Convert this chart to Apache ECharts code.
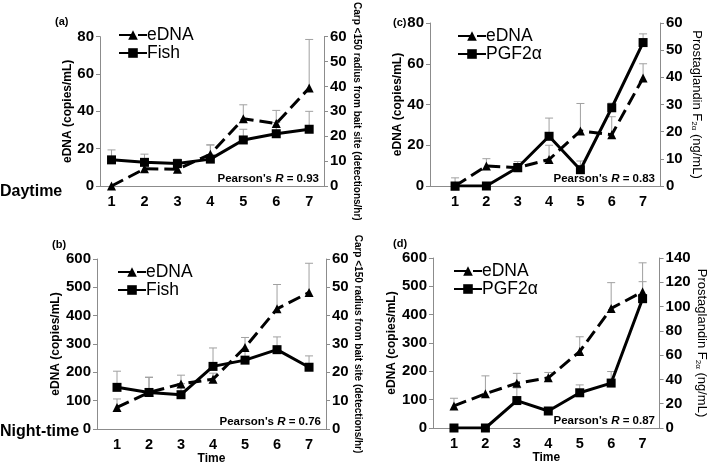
<!DOCTYPE html>
<html><head><meta charset="utf-8">
<script src="https://cdn.jsdelivr.net/npm/echarts@6/dist/echarts.min.js"></script>
<style>html,body{margin:0;padding:0;background:#fff}#c{width:709px;height:466px}</style>
</head><body><div id="c"></div>
<script>
const times = [1, 2, 3, 4, 5, 6, 7];
// (a) Daytime: eDNA (left axis) & Fish (right axis)
const aEDNA    = [0, 9.2, 9, 17, 36, 33.5, 52.5];
const aEDNAErr = [0, 13, 11, 22, 43.5, 40.5, 78.5];
const aFish    = [10.5, 9.5, 9, 10.8, 18.5, 21, 22.8];
const aFishErr = [14.5, 12.8, 10.8, 16.5, 22.8, 25.5, 30];
// (c) Daytime: eDNA (left) & PGF2a (right)
const cEDNA    = [0, 9.8, 9, 13, 27, 25.2, 53];
const cEDNAErr = [0, 13.4, 12, 20, 40.5, 34, 60];
const cPGF     = [0, 0, 6.8, 18.3, 6, 28.8, 52.8];
const cPGFErr  = [3, 0, 8, 25, 9.2, 30.5, 56];
// (b) Night-time: eDNA (left) & Fish (right)
const bEDNA    = [76, 129, 159, 176, 288, 424, 482];
const bEDNAErr = [106, 183, 190, 197, 323, 510, 585];
const bFish    = [14.7, 12.9, 12.1, 22.1, 24.3, 28, 21.8];
const bFishErr = [20.4, 18.2, 16, 28.6, 28, 32.5, 25.8];
// (d) Night-time: eDNA (left) & PGF2a (right)
const dEDNA    = [78, 121, 158, 177, 270, 422, 481];
const dEDNAErr = [105, 184, 193, 196, 322, 513, 583];
const dPGF     = [0, 0, 22.6, 14, 29, 37, 106.5];
const dPGFErr  = [0, 0, 33, 16, 35.5, 46.5, 120.5];

const pearson = ['0.93', '0.76', '0.83', '0.87'];
const panelLetters = ['(a)', '(b)', '(c)', '(d)'];

const FONT = 'Liberation Sans, Arial, sans-serif';
const AXIS_GRAY = '#8c8c8c';

const chart = echarts.init(document.getElementById('c'), null, {renderer: 'canvas'});

const panels = [
  {grid: {left: 100, right: 385, top: 22, height: 164}, xr: [0.65, 7.45], letterX: 55, legendX: 113,
   left: {max: 80, interval: 20, gap: 22}, right: {max: 60, interval: 10, gap: 28, name: 'carp'},
   e: aEDNA, eErr: aEDNAErr, s: aFish, sErr: aFishErr, sName: 'Fish', time: false},
  {grid: {left: 97, right: 383, top: 259, height: 170}, xr: [0.375, 7.53], letterX: 52, legendX: 112,
   left: {max: 600, interval: 100, gap: 29}, right: {max: 60, interval: 10, gap: 26, name: 'carp'},
   e: bEDNA, eErr: bEDNAErr, s: bFish, sErr: bFishErr, sName: 'Fish', time: true},
  {grid: {left: 430, right: 49, top: 23, height: 163}, xr: [0.2, 7.54], letterX: 393, legendX: 452,
   left: {max: 80, interval: 20, gap: 24}, right: {max: 60, interval: 10, gap: 30, name: 'pgf'},
   e: cEDNA, eErr: cEDNAErr, s: cPGF, sErr: cPGFErr, sName: 'PGF2α', time: false},
  {grid: {left: 433, right: 49, top: 258, height: 170}, xr: [0.333, 7.54], letterX: 393, legendX: 448,
   left: {max: 600, interval: 100, gap: 33}, right: {max: 140, interval: 20, gap: 30, name: 'pgf'},
   e: dEDNA, eErr: dEDNAErr, s: dPGF, sErr: dPGFErr, sName: 'PGF2α', time: true}
];

function errRender(params, api) {
  const x = api.value(0), y = api.value(1), top = api.value(2);
  if (!(top > y)) return null;
  const p0 = api.coord([x, y]);
  const p1 = api.coord([x, top]);
  return {type: 'group', children: [
    {type: 'line', shape: {x1: p0[0], y1: p0[1], x2: p1[0], y2: p1[1]}, style: {stroke: '#a0a0a0', lineWidth: 1}},
    {type: 'line', shape: {x1: p1[0] - 4, y1: p1[1], x2: p1[0] + 4, y2: p1[1]}, style: {stroke: '#a0a0a0', lineWidth: 1}}
  ]};
}

const grids = [], xAxes = [], yAxes = [], series = [], legends = [], graphics = [];

panels.forEach((p, i) => {
  grids.push(Object.assign({containLabel: false}, p.grid));
  xAxes.push({
    type: 'value', gridIndex: i, min: p.xr[0], max: p.xr[1], splitNumber: 7,
    name: p.time ? 'Time' : '', nameLocation: 'middle', nameGap: 17,
    nameTextStyle: {fontFamily: FONT, fontWeight: 'bold', fontSize: 12, color: '#000'},
    axisLine: {show: true, lineStyle: {color: AXIS_GRAY, width: 1}},
    axisTick: {show: false}, splitLine: {show: false},
    axisLabel: {
      showMinLabel: false, showMaxLabel: false, margin: 8,
      fontFamily: FONT, fontWeight: 'bold', fontSize: 14.5, color: '#000',
      formatter: v => (Math.abs(v - Math.round(v)) < 1e-6 && times.indexOf(Math.round(v)) >= 0) ? String(Math.round(v)) : ''
    }
  });
  yAxes.push({
    type: 'value', gridIndex: i, position: 'left', min: 0, max: p.left.max, interval: p.left.interval,
    name: 'eDNA (copies/mL)', nameLocation: 'middle', nameGap: p.left.gap, nameRotate: 90,
    nameTextStyle: {fontFamily: FONT, fontWeight: 'bold', fontSize: 12, color: '#000'},
    axisLine: {show: true, lineStyle: {color: AXIS_GRAY, width: 1}},
    axisTick: {show: true, length: 4, lineStyle: {color: AXIS_GRAY}},
    splitLine: {show: false},
    axisLabel: {fontFamily: FONT, fontWeight: 'bold', fontSize: 15, color: '#000', margin: 6}
  });
  const rightName = p.right.name === 'carp'
    ? 'Carp <150 radius from bait site (detections/hr)'
    : 'Prostaglandin F{sub|2α} (ng/mL)';
  yAxes.push({
    type: 'value', gridIndex: i, position: 'right', min: 0, max: p.right.max, interval: p.right.interval,
    name: rightName, nameLocation: 'middle', nameGap: p.right.gap, nameRotate: -90,
    nameTextStyle: p.right.name === 'carp'
      ? {fontFamily: FONT, fontWeight: 'bold', fontSize: 10, color: '#000'}
      : {fontFamily: FONT, fontWeight: 'normal', fontSize: 13, color: '#000',
         rich: {sub: {fontFamily: FONT, fontSize: 8, color: '#000', verticalAlign: 'bottom', padding: [6, 0, 0, 0]}}},
    axisLine: {show: true, lineStyle: {color: AXIS_GRAY, width: 1}},
    axisTick: {show: true, length: 4, lineStyle: {color: AXIS_GRAY}},
    splitLine: {show: false},
    axisLabel: {fontFamily: FONT, fontWeight: 'bold', fontSize: 15, color: '#000', margin: 6}
  });
  const yl = i * 2, yr = i * 2 + 1;
  series.push({
    type: 'custom', xAxisIndex: i, yAxisIndex: yl, renderItem: errRender, silent: true, z: 1,
    data: times.map((t, k) => [t, p.e[k], p.eErr[k]])
  });
  series.push({
    type: 'custom', xAxisIndex: i, yAxisIndex: yr, renderItem: errRender, silent: true, z: 1,
    data: times.map((t, k) => [t, p.s[k], p.sErr[k]])
  });
  series.push({
    name: 'eDNA', type: 'line', xAxisIndex: i, yAxisIndex: yl, z: 3,
    symbol: 'triangle', symbolSize: 9, showAllSymbol: true,
    itemStyle: {color: '#000'},
    lineStyle: {color: '#000', width: 3, type: [13, 6]},
    data: times.map((t, k) => [t, p.e[k]])
  });
  series.push({
    name: p.sName, type: 'line', xAxisIndex: i, yAxisIndex: yr, z: 3,
    symbol: 'rect', symbolSize: 9, showAllSymbol: true,
    itemStyle: {color: '#000'},
    lineStyle: {color: '#000', width: 3, type: 'solid'},
    data: times.map((t, k) => [t, p.s[k]])
  });
  legends.push({
    data: ['eDNA', p.sName], orient: 'vertical',
    left: p.legendX, top: p.grid.top - 1,
    itemWidth: 28, itemHeight: 12, itemGap: 0,
    textStyle: {fontFamily: FONT, fontSize: 17.5, lineHeight: 16, color: '#000', padding: [0, 0, 0, -5]},
    selectedMode: false
  });
  const gx1 = 709 - p.grid.right;
  const gy1 = p.grid.top + p.grid.height;
  graphics.push({
    type: 'text', x: gx1 - 5, y: gy1 - 7, z: 10,
    style: {text: "Pearson's {i|R} = " + pearson[i], fill: '#000', align: 'right', verticalAlign: 'middle',
            font: 'bold 11.5px ' + FONT,
            rich: {i: {fontStyle: 'italic', fontWeight: 'bold', fontSize: 11.5, fontFamily: FONT, fill: '#000'}}}
  });
  graphics.push({
    type: 'text', x: p.letterX, y: p.grid.top - (p.time ? 14 : 0), z: 10,
    style: {text: panelLetters[i], fill: '#000', align: 'left', verticalAlign: 'middle', font: 'bold 11px ' + FONT}
  });
});

graphics.push({type: 'text', x: 0, y: 192, style: {text: 'Daytime', fill: '#000', align: 'left', verticalAlign: 'middle', font: 'bold 16px ' + FONT}});
graphics.push({type: 'text', x: 0, y: 432, style: {text: 'Night-time', fill: '#000', align: 'left', verticalAlign: 'middle', font: 'bold 16px ' + FONT}});

chart.setOption({
  animation: false,
  backgroundColor: '#fff',
  grid: grids, xAxis: xAxes, yAxis: yAxes, series: series, legend: legends, graphic: graphics
});
</script></body></html>
